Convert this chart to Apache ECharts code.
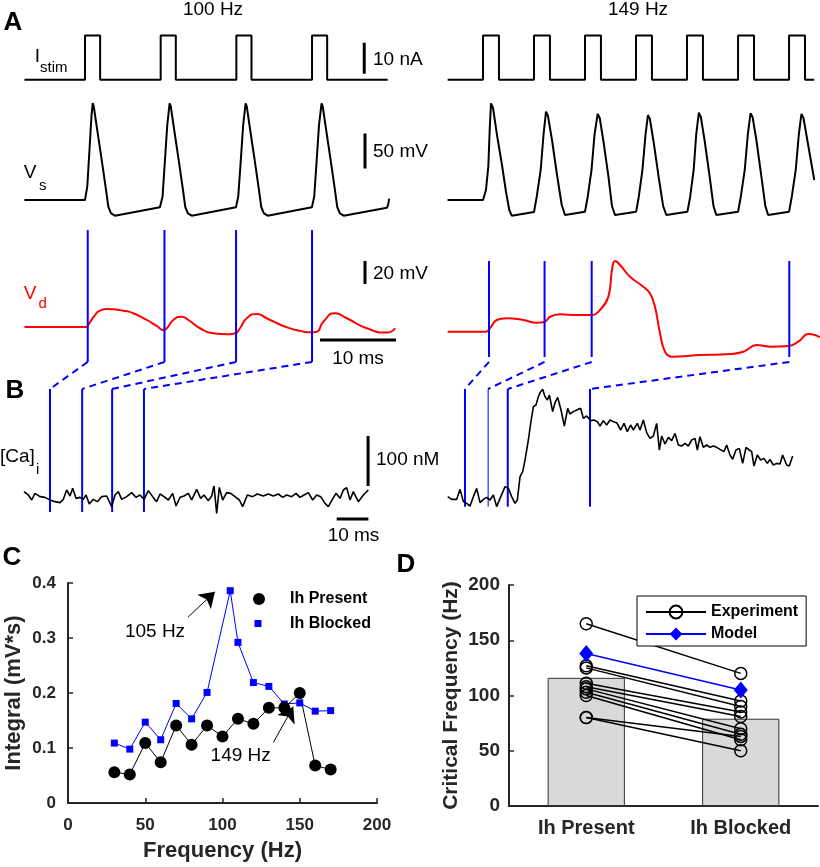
<!DOCTYPE html>
<html><head><meta charset="utf-8">
<script src="https://cdn.jsdelivr.net/npm/echarts@6/dist/echarts.min.js"></script>
<style>html,body{margin:0;padding:0;background:#fff}#c{width:820px;height:867px}</style>
</head><body><div id="c"></div>
<script>
// ---------------- DATA ----------------
// Panel A, 100 Hz (time ms, value)
const istimL = [[-8,0],[0,0],[0,14.2],[2,14.2],[2,0],[10,0],[10,14.2],[12,14.2],[12,0],[20,0],[20,14.2],[22,14.2],[22,0],[30,0],[30,14.2],[32,14.2],[32,0],[40,0]];
const istimR = [[-4.65,0],[0,0],[0,14.2],[2.1,14.2],[2.1,0],[6.71,0],[6.71,14.2],[8.81,14.2],[8.81,0],[13.42,0],[13.42,14.2],[15.52,14.2],[15.52,0],[20.13,0],[20.13,14.2],[22.23,14.2],[22.23,0],[26.84,0],[26.84,14.2],[28.94,14.2],[28.94,0],[33.56,0],[33.56,14.2],[35.66,14.2],[35.66,0],[40.27,0],[40.27,14.2],[42.37,14.2],[42.37,0],[43.58,0]];
const vsL = [[-8,-65],[0,-65],[0.3,-46],[0.59,6],[0.86,56],[1.02,73.6],[1.15,69.3],[1.55,39.7],[2.21,-7.9],[2.78,-50.7],[3.08,-74.6],[3.44,-84],[3.96,-87.4],[9.9,-75.5],
  [10.25,-60],[10.48,-22],[10.87,42],[11.18,73],[11.33,69],[11.72,40],[12.38,-8],[12.95,-51],[13.25,-75],[13.6,-84],[14.1,-87.4],[19.95,-75.5],
  [20.25,-60],[20.5,-22],[20.9,42],[21.22,73],[21.37,69],[21.76,40],[22.42,-8],[22.99,-51],[23.29,-75],[23.64,-84],[24.14,-87.4],[29.98,-75.5],
  [30.29,-60],[30.53,-22],[30.92,42],[31.26,73],[31.41,69],[31.8,40],[32.46,-8],[33.03,-51],[33.33,-75],[33.68,-84],[34.18,-87.4],[39.9,-76],[40.05,-72],[40.2,-63]];
const vsR = [[-4.67,-65],[0,-65],[0.39,-50.7],[0.7,-17.4],[0.88,35],[1.05,73.1],[1.32,66.4],[1.84,27.9],[2.5,-15],[3.03,-53.6],[3.46,-79.3],[3.78,-87.4],[6.71,-82.1],
  [7.07,-60.3],[7.59,-22.1],[7.96,27.9],[8.29,61.1],[8.55,55],[9.08,20.7],[9.74,-29.3],[10.36,-72.1],[10.79,-86.4],[13.42,-81.7],
  [13.78,-60.3],[14.28,-22.1],[14.67,27.9],[15.09,57.9],[15.36,52.1],[15.86,17.9],[16.51,-32.1],[16.97,-73.6],[17.37,-86.4],[20.15,-81.7],
  [20.5,-60.3],[20.98,-22.1],[21.38,27.9],[21.7,56.4],[21.96,50.7],[22.45,17.9],[23.11,-32.1],[23.7,-73.6],[24.12,-86.4],[26.9,-81.7],
  [27.26,-60.3],[27.72,-22.1],[28.05,27.9],[28.4,59.7],[28.66,53.6],[29.15,20.7],[29.81,-30.7],[30.33,-73.6],[30.69,-86.4],[33.56,-81.7],
  [33.92,-60.3],[34.44,-22.1],[34.84,27.9],[35.2,58.9],[35.47,53.6],[35.97,20.7],[36.62,-30.7],[37.15,-73.6],[37.52,-86.4],[40.27,-81.7],
  [40.63,-60.3],[41.15,-22.1],[41.55,27.9],[41.9,57.9],[42.17,52.1],[42.67,20.7],[43.13,-7.9],[43.59,-36.4]];
const vdL = [[-8,-65],[0.13,-65],[0.44,-63],[1.32,-54.6],[1.98,-50.8],[2.87,-49.4],[5.06,-50.8],[6.39,-53.1],[8.15,-58.9],[9.48,-64.1],[10.35,-67.6],[10.8,-66.2],[11.67,-58.9],[12.78,-56],[13.66,-58.9],[15.2,-66.1],[16.96,-70.5],[18.73,-71.3],[19.82,-70.5],[20.48,-66.1],[21.37,-57.4],[22.69,-53.7],[24.01,-57.4],[26.21,-64.1],[28.41,-68.4],[29.96,-69.6],[30.62,-69.1],[31.5,-60.4],[33.04,-53.1],[34.59,-57.4],[37.23,-66.1],[39.87,-69.9],[40.97,-66.1]];
const vdR = [[-4.65,-65],[0.39,-65],[0.92,-62],[1.8,-54.8],[3.11,-53.3],[5.3,-54.8],[7.07,-57.2],[8.16,-56.3],[8.82,-52],[10.13,-49.9],[12.33,-50.5],[14.3,-50.5],[15.39,-46.1],[16.49,-34.6],[17.0,-10],[17.37,-3.5],[18.03,-7],[19.34,-17.2],[21.09,-25.9],[21.97,-31.6],[22.63,-43.3],[23.29,-66.4],[23.95,-82.4],[24.83,-86.7],[28.55,-85.3],[32.5,-84.4],[34.25,-82.4],[36.01,-76.6],[37.76,-78],[40.17,-77.4],[41.49,-73.7],[42.8,-67],[43.68,-67.9],[44.3,-69.9]];
// event (spike) times, ms
const eventsL = [0.36, 10.5, 19.96, 30.0];
const eventsR = [0.79, 8.1, 14.3, 40.3];
const eventWidthR = [2, 1, 2, 2];
// Panel B: [Ca]i traces (ms, nM)
const caLt = [-7.84,-6.47,-5.42,-4.37,-2.79,-1.21,0.36,1.94,3.52,4.57,5.62,6.67,7.51,8.56,9.83,10.88,11.72,12.77,14.03,15.29,16.66,18.24,19.82,20.87,21.92,22.97,24.55,26.13,27.49,28.75,30.02,31.38,32.75,34.01,35.06,36.33,37.69,39.06,40.11,41.37,42.63,44,45.05,46.63,47.89,48.94,50.31,51.36,52.1,52.94,53.78,54.83,56.09,57.36,58.72,60.09,61.14,62.61,64.3,65.77,67.66,69.24,70.81,72.39,73.76,75.02,76.6,77.97,79.23,80.49,81.86,83.22,84.49,85.75,87.11,88.17,89.22,90.58,91.85,92.9,93.95,95,96.05,97.63,99.21,100.78];
const caLv = [110.7,104,94,107.3,100.7,99.3,94,90.7,88.7,95.3,114,102,117.3,97.3,99.3,95.3,104,86,95.3,90.7,100.7,102,80.7,104,110.7,95.3,100.7,108.7,99.3,104,95.3,112.7,100.7,90.7,106,100.7,94,107.3,82,99.3,102,107.3,94,115.3,97.3,104,92.7,102,122,67.3,119.3,94,108.7,107.3,100.7,94,80.7,104,100.7,106,102,106,102,106,99.3,104,100.7,107.3,99.3,104,108.7,94,104,100.7,87.3,80.7,92.7,107.3,97.3,114,118.7,94,110.7,90.7,104,114];
const caRt = [-4.69,-3.42,-1.84,-0.79,0.27,1.32,2.37,3.43,4.48,5.53,6.59,7.64,8.69,9.75,10.8,11.86,12.91,13.44,14.49,15.54,16.6,17.33,18.18,19.02,19.76,20.81,21.55,22.39,23.23,23.97,24.71,25.34,26.08,26.82,27.45,28.5,29.24,30.08,31.13,32.19,33.24,33.98,35.03,36.09,37.35,38.19,39.25,40.51,41.56,42.62,43.46,44.51,45.57,46.62,47.67,48.73,49.99,51.05,52.1,53.15,54,55.26,56.1,57.16,58.21,59.26,60.32,61.37,62.21,62.95,64,65.06,66.11,67.17,68.22,69.27,70.33,71.38,72.43,73.49,74.22,75.07,76.12,77.17,78.23,79.28,80.33,81.39,82.65,83.49,84.55,85.39,86.44,87.5,88.55,89.61,90.66,91.4,92.13,93.19,94.24,95.29,96.35,97.19,98.24,99.3,100.35,101.19,102.46,103.3,104.35];
const caRv = [100.7,95.3,95.3,115.3,90.7,87.3,82,100.7,117.3,88.7,95.3,99.3,94,104,80.7,97.3,112.7,120.7,117.3,100.7,87.3,94,140.7,150.7,174,214,247.3,280.7,284,300.7,310.7,315.3,300.7,294,304,270.7,288.7,299.3,274,242,277.3,266,270.7,274,277.3,257.3,262,252.7,254,250.7,242,252.7,244,254,250.7,248.7,234,247.3,230.7,244,234,247.3,234,254,228.7,217.3,222,247.3,194,222,206,219.3,212.7,227.3,204,202,207.3,202,214,217.3,194,220.7,199.3,204,199.3,202,199.3,195.3,190.7,204,184,175.3,194,197.3,167.3,199.3,194,190.7,162,184,174,177.3,167.3,175.3,164,167.3,166,184,164,162,182];
// marker-line extents (value units of each panel)
const vdLineL = [19.3, -95.4], vdLineR = [-3.5, -87], vdConnR = -91.3;
const caLineL = [316, 70], caLineR = [316, 80.6];
// scale bars
const barNA = [36.9, 1.9, 11.9], barVs = [37, -20, 30], barVd = [37, -27.6, -7.6];
const barMsA = [31.05, 41.1, -76.3], barNM = [100.7, 122, 222], barMsB = [90.8, 100.8, 56];
// Panel C
const freqPresent = [30,40,50,60,70,80,90,100,110,120,130,140,150,160,170];
const intPresent = [0.056,0.052,0.109,0.074,0.141,0.106,0.141,0.121,0.153,0.144,0.173,0.173,0.2,0.068,0.061];
const freqBlocked = [30,40,50,60,70,80,90,105,110,120,130,140,150,160,170];
const intBlocked = [0.109,0.098,0.147,0.115,0.181,0.153,0.201,0.386,0.292,0.219,0.212,0.18,0.182,0.167,0.168];
const arrow105 = [[77.7,0.338],[95.1,0.384]], arrow149 = [[132.9,0.11],[145.8,0.175]];
// Panel D
const dCategories = ['Ih Present','Ih Blocked'];
const barMeans = [116, 79];
const expPresent = [165,127,125,111,108,106,103,100,80,80];
const expBlocked = [120,95,90,85,81,70,65,60,63,50];
const modelVals = [138, 105];

// ---------------- LAYOUT ----------------
const FF = '"Liberation Sans", Arial, sans-serif';
const AX = '#262626';
const grids = [
  {left:24.46, top:30, width:374.6, height:56},
  {left:447.28, top:30, width:372.4, height:56},
  {left:24.46, top:95, width:374.6, height:129.5},
  {left:447.28, top:95, width:372.4, height:129.5},
  {left:24.46, top:228, width:374.6, height:136},
  {left:447.28, top:258, width:372.4, height:102},
  {left:23.5, top:385, width:348.7, height:140},
  {left:446.7, top:385, width:348, height:140},
  {left:68, top:583, width:309, height:220},
  {left:509, top:585, width:309, height:221}
].map(g => Object.assign({containLabel:false, outerBoundsMode:'none'}, g));
const ranges = [
  [[-8,41.5],[-2,16]], [[-4.7,44.3],[-2,16]],
  [[-8,41.5],[-100,85]], [[-4.7,44.3],[-100,85]],
  [[-8,41.5],[-97.2,21.1]], [[-4.7,44.3],[-89.6,-0.9]],
  [[-8,102],[44,324]], [[-5,105],[44,324]]
];
const xAxes = [], yAxes = [];
ranges.forEach((r,i) => {
  xAxes.push({type:'value', gridIndex:i, min:r[0][0], max:r[0][1], show:false});
  yAxes.push({type:'value', gridIndex:i, min:r[1][0], max:r[1][1], show:false});
});
const axLine = {show:true, onZero:false, lineStyle:{color:AX, width:2}};
const axTick = {show:true, inside:true, length:5, lineStyle:{color:AX, width:1.5}};
xAxes.push({type:'value', gridIndex:8, min:0, max:200, interval:50, axisLine:axLine, axisTick:axTick,
  splitLine:{show:false}, axisLabel:{color:AX, fontSize:17, fontWeight:'bold', margin:14, fontFamily:FF},
  name:'Frequency (Hz)', nameLocation:'middle', nameGap:37, nameTextStyle:{color:AX, fontSize:22, fontWeight:'bold', fontFamily:FF}});
yAxes.push({type:'value', gridIndex:8, min:0, max:0.4, interval:0.1, axisLine:axLine, axisTick:axTick,
  splitLine:{show:false}, axisLabel:{color:AX, fontSize:17, fontWeight:'bold', margin:12, fontFamily:FF, formatter:v => v===0?'0':v.toFixed(1)},
  name:'Integral (mV*s)', nameLocation:'middle', nameGap:43, nameTextStyle:{color:AX, fontSize:22, fontWeight:'bold', fontFamily:FF}});
xAxes.push({type:'category', gridIndex:9, data:dCategories, boundaryGap:true, axisLine:axLine,
  axisTick:{show:true, inside:true, length:5, alignWithLabel:true, lineStyle:{color:AX, width:1.5}},
  splitLine:{show:false}, axisLabel:{color:AX, fontSize:20, fontWeight:'bold', margin:12, fontFamily:FF}});
yAxes.push({type:'value', gridIndex:9, min:0, max:200, interval:50, axisLine:axLine, axisTick:axTick,
  splitLine:{show:false}, axisLabel:{color:AX, fontSize:19, fontWeight:'bold', margin:9, fontFamily:FF},
  name:'Critical Frequency (Hz)', nameLocation:'middle', nameGap:47, nameTextStyle:{color:AX, fontSize:21, fontWeight:'bold', fontFamily:FF}});

// ---------------- SERIES ----------------
const series = [];
function line(gi, data, color, width, extra) {
  series.push(Object.assign({type:'line', xAxisIndex:gi, yAxisIndex:gi, data:data, symbol:'none', showSymbol:false,
    lineStyle:{color:color, width:width}, itemStyle:{color:color}, silent:true, animation:false}, extra||{}));
}
const BLUE = '#0000ff', RED = '#ff0000';
line(0, istimL, '#000', 2); line(1, istimR, '#000', 2);
line(2, vsL, '#000', 2); line(3, vsR, '#000', 2);
line(4, vdL, RED, 2, {smooth:0.6});
line(5, vdR, RED, 2, {smooth:0.45});
eventsL.forEach(t => line(4, [[t, vdLineL[0]],[t, vdLineL[1]]], BLUE, 2));
eventsR.forEach(t => line(5, [[t, vdLineR[0]],[t, vdLineR[1]]], BLUE, 2));
eventsL.forEach(t => line(6, [[t, caLineL[0]],[t, caLineL[1]]], BLUE, 2));
eventsR.forEach((t,i) => line(7, [[t, caLineR[0]],[t, caLineR[1]]], BLUE, eventWidthR[i]));
line(6, caLt.map((t,i)=>[t, caLv[i]]), '#000', 1.6);
line(7, caRt.map((t,i)=>[t, caRv[i]]), '#000', 1.6);
// scale bars
line(0, [[barNA[0],barNA[1]],[barNA[0],barNA[2]]], '#000', 3);
line(2, [[barVs[0],barVs[1]],[barVs[0],barVs[2]]], '#000', 3);
line(4, [[barVd[0],barVd[1]],[barVd[0],barVd[2]]], '#000', 3);
line(4, [[barMsA[0],barMsA[2]],[barMsA[1],barMsA[2]]], '#000', 3);
line(6, [[barNM[0],barNM[1]],[barNM[0],barNM[2]]], '#000', 3);
line(6, [[barMsB[0],barMsB[2]],[barMsB[1],barMsB[2]]], '#000', 3);
// Panel C
series.push({type:'line', name:'Ih Blocked', xAxisIndex:8, yAxisIndex:8, data:freqBlocked.map((f,i)=>[f,intBlocked[i]]),
  symbol:'rect', symbolSize:7, itemStyle:{color:BLUE}, lineStyle:{color:BLUE, width:1}, silent:true, animation:false});
series.push({type:'line', name:'Ih Present', xAxisIndex:8, yAxisIndex:8, data:freqPresent.map((f,i)=>[f,intPresent[i]]),
  symbol:'circle', symbolSize:12, itemStyle:{color:'#000'}, lineStyle:{color:'#000', width:1}, silent:true, animation:false,
  markLine:{silent:true, animation:false, symbol:['none','arrow'], symbolSize:15, label:{show:false},
    lineStyle:{color:'#000', width:1, type:'solid'},
    data:[[{coord:arrow105[0]},{coord:arrow105[1]}],[{coord:arrow149[0]},{coord:arrow149[1]}]]}});
// Panel D
series.push({type:'bar', xAxisIndex:9, yAxisIndex:9, data:barMeans, barWidth:'50%',
  itemStyle:{color:'#d9d9d9', borderColor:'#333', borderWidth:1}, silent:true, animation:false});
expPresent.forEach((p,i) => {
  series.push({type:'line', name:'Experiment', xAxisIndex:9, yAxisIndex:9, data:[p, expBlocked[i]],
    symbol:'circle', symbolSize:12, itemStyle:{color:'rgba(0,0,0,0)', borderColor:'#000', borderWidth:1.5},
    lineStyle:{color:'#000', width:1.5}, silent:true, animation:false});
});
series.push({type:'line', name:'Model', xAxisIndex:9, yAxisIndex:9, data:modelVals,
  symbol:'diamond', symbolSize:[14,17], itemStyle:{color:BLUE}, lineStyle:{color:BLUE, width:1.5}, silent:true, animation:false});

// ---------------- TEXT ----------------
function T(x, y, text, size, opts) {
  opts = opts || {};
  const a = opts.align || 'left';
  return {type:'text', x:x, y:y, silent:true, z:100,
    style:{text:text, fill:opts.color||'#000', font:(opts.bold?'bold ':'')+size+'px '+FF,
      align:a, textAlign:a, verticalAlign:'middle', textVerticalAlign:'middle'}};
}
const texts = [
  T(213,9.5,'100 Hz',19,{align:'center'}), T(638,9.5,'149 Hz',19,{align:'center'}),
  T(13,23,'A',26,{bold:true,align:'center'}),
  T(37.5,57,'I',19,{align:'center'}), T(40,68,'stim',15),
  T(373,60,'10 nA',19),
  T(30,173,'V',19,{align:'center'}), T(39,186,'s',15),
  T(373,152,'50 mV',19),
  T(30,294,'V',19,{align:'center',color:RED}), T(38.5,304,'d',15,{color:RED}),
  T(373,274,'20 mV',19),
  T(358,358.5,'10 ms',19,{align:'center'}),
  T(15,391,'B',26,{bold:true,align:'center'}),
  T(0,457,'[Ca]',19), T(36,470,'i',15),
  T(376,460,'100 nM',19),
  T(353.5,536,'10 ms',19,{align:'center'}),
  T(12,557.5,'C',26,{bold:true,align:'center'}),
  T(406,564.5,'D',26,{bold:true,align:'center'}),
  T(155,632,'105 Hz',19,{align:'center'}),
  T(240.7,756,'149 Hz',19,{align:'center'})
];

const legendText = {color:'#000', fontSize:16, fontWeight:'bold', fontFamily:FF};
const option = {
  animation:false,
  backgroundColor:'#fff',
  textStyle:{fontFamily:FF},
  grid:grids, xAxis:xAxes, yAxis:yAxes, series:series,
  legend:[
    {data:[{name:'Ih Present', icon:'circle'}], left:253, top:591, padding:0, itemWidth:12, itemHeight:12, selectedMode:false,
      textStyle:Object.assign({padding:[0,0,0,20]}, legendText)},
    {data:[{name:'Ih Blocked', icon:'rect'}], left:254.5, top:615.5, padding:0, itemWidth:7, itemHeight:7, selectedMode:false,
      textStyle:Object.assign({padding:[0,0,0,23.5]}, legendText)},
    {data:['Experiment','Model'], orient:'vertical', left:637, top:596, padding:[8,8,4,8], itemGap:6, itemWidth:60, itemHeight:16,
      borderColor:'#000', borderWidth:1, backgroundColor:'#fff', selectedMode:false, textStyle:legendText}
  ],
  graphic:texts
};
const chart = echarts.init(document.getElementById('c'), null, {renderer:'canvas'});
chart.setOption(option);
// dashed connectors from panel A event markers to panel B event markers
const conns = [];
eventsL.forEach(t => {
  const p1 = chart.convertToPixel({gridIndex:4}, [t, vdLineL[1]]);
  const p2 = chart.convertToPixel({gridIndex:6}, [t, caLineL[0]]);
  conns.push({type:'line', silent:true, shape:{x1:p1[0], y1:p1[1], x2:p2[0], y2:p2[1]}, style:{stroke:BLUE, lineWidth:2, lineDash:[7,5]}});
});
eventsR.forEach(t => {
  const p1 = chart.convertToPixel({gridIndex:5}, [t, vdConnR]);
  const p2 = chart.convertToPixel({gridIndex:7}, [t, caLineR[0]]);
  conns.push({type:'line', silent:true, shape:{x1:p1[0], y1:p1[1], x2:p2[0], y2:p2[1]}, style:{stroke:BLUE, lineWidth:2, lineDash:[7,5]}});
});
chart.setOption({graphic:texts.concat(conns)});
</script></body></html>
